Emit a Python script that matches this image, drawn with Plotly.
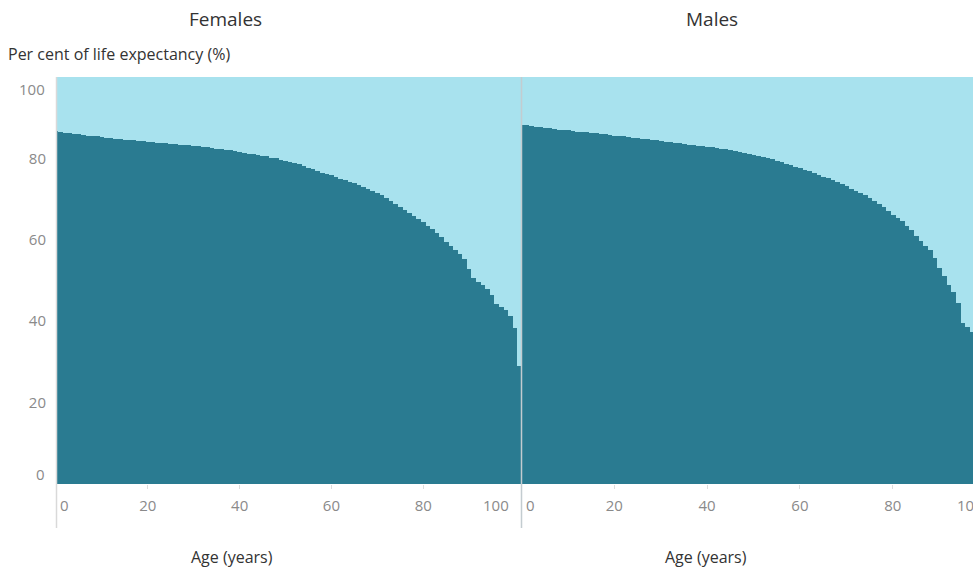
import plotly.graph_objects as go

# ---------------- data ----------------
female_ages = list(range(0, 102))
female_pct = [
    86.7, 86.5, 86.3, 86.2, 86.0, 85.9, 85.8, 85.6, 85.5, 85.4,
    85.2, 85.1, 85.0, 84.8, 84.7, 84.6, 84.5, 84.4, 84.3, 84.2,
    84.1, 84.0, 83.9, 83.8, 83.7, 83.6, 83.5, 83.4, 83.3, 83.2,
    83.1, 83.0, 82.8, 82.7, 82.5, 82.4, 82.3, 82.1, 82.0, 81.8,
    81.6, 81.4, 81.2, 81.1, 80.9, 80.7, 80.5, 80.2, 80.0, 79.7,
    79.4, 79.1, 78.9, 78.6, 78.2, 77.7, 77.3, 76.9, 76.5, 76.1,
    75.8, 75.4, 75.0, 74.6, 74.3, 73.9, 73.5, 73.0, 72.4, 71.9,
    71.4, 70.9, 70.2, 69.5, 68.8, 68.1, 67.4, 66.6, 65.8, 65.0,
    64.3, 63.5, 62.6, 61.6, 60.6, 59.5, 58.5, 57.6, 56.6, 55.2,
    52.8, 50.5, 49.7, 48.8, 47.8, 46.4, 44.3, 43.5, 42.8, 41.4,
    38.3, 29.1,
]

male_ages = list(range(0, 98))
male_pct = [
    88.2, 88.1, 88.0, 87.8, 87.7, 87.5, 87.4, 87.2, 87.1, 87.0,
    86.9, 86.8, 86.6, 86.5, 86.4, 86.3, 86.2, 86.1, 85.9, 85.8,
    85.6, 85.5, 85.4, 85.2, 85.1, 85.0, 84.8, 84.7, 84.5, 84.4,
    84.2, 84.1, 84.0, 83.8, 83.7, 83.5, 83.4, 83.3, 83.1, 83.0,
    82.8, 82.7, 82.5, 82.4, 82.2, 82.0, 81.8, 81.6, 81.3, 81.1,
    80.8, 80.6, 80.3, 80.1, 79.8, 79.4, 79.1, 78.7, 78.4, 78.0,
    77.6, 77.2, 76.8, 76.4, 75.9, 75.5, 75.1, 74.6, 74.1, 73.6,
    73.1, 72.5, 72.0, 71.5, 70.9, 70.2, 69.5, 68.9, 68.1, 67.2,
    66.2, 65.4, 64.5, 63.5, 62.3, 61.0, 59.8, 58.4, 57.5, 55.5,
    53.0, 51.2, 49.0, 47.2, 44.4, 39.5, 38.5, 37.3,
]

panel_titles = ["Females", "Males"]
x_tick_vals = [20, 40, 60, 80]
y_tick_vals = [20, 40, 60, 80]

DARK = "#2A7B91"
LIGHT = "#A8E2EE"
TICK_GREY = "#8a8a8a"
TEXT_DARK = "#333333"
FONT = "Open Sans"

W, H = 973, 570
PLOT_L, PLOT_T, PLOT_B = 56, 77, 484
ML, MT, MB, MR = PLOT_L, PLOT_T, H - PLOT_B, 0
PW = W - ML - MR
PH = H - MT - MB


def px_x(p):
    return (p - PLOT_L) / PW


def px_y(p):
    return (PLOT_B - p) / PH


split = px_x(521.5)

fig = go.Figure()
for ages, vals, xa in [(female_ages, female_pct, "x"), (male_ages, male_pct, "x2")]:
    fig.add_trace(go.Bar(x=ages, y=vals, xaxis=xa, yaxis="y",
                         marker=dict(color=DARK, line=dict(width=0)),
                         showlegend=False, hoverinfo="x+y"))
    fig.add_trace(go.Bar(x=ages, y=[100 - v for v in vals], xaxis=xa, yaxis="y",
                         marker=dict(color=LIGHT, line=dict(width=0)),
                         showlegend=False, hoverinfo="skip"))

axis_common = dict(
    tickvals=x_tick_vals, ticks="outside", ticklen=4, tickcolor="#dddddd",
    tickfont=dict(family=FONT, size=15, color=TICK_GREY),
    showgrid=False, zeroline=False, showline=False, fixedrange=True,
    ticklabelstandoff=4,
)

fig.update_layout(
    width=W, height=H,
    margin=dict(l=ML, r=MR, t=MT, b=MB, pad=0),
    barmode="stack", bargap=0,
    plot_bgcolor="white", paper_bgcolor="white",
    xaxis=dict(domain=[0, split], range=[0, 101.4], **axis_common),
    xaxis2=dict(domain=[split, 1], range=[0, 97.3], anchor="y", **axis_common),
    yaxis=dict(range=[0, 100], tickvals=y_tick_vals, ticks="", showgrid=False,
               zeroline=False, showline=False, fixedrange=True,
               tickfont=dict(family=FONT, size=15, color=TICK_GREY),
               ticklabelstandoff=9),
    font=dict(family=FONT, color=TEXT_DARK),
)

ann = []
ann.append(dict(text=panel_titles[0], x=px_x(225.8), y=px_y(19), xref="paper", yref="paper",
                showarrow=False, font=dict(size=19, color=TEXT_DARK), xanchor="center", yanchor="middle"))
ann.append(dict(text=panel_titles[1], x=px_x(712), y=px_y(19), xref="paper", yref="paper",
                showarrow=False, font=dict(size=19, color=TEXT_DARK), xanchor="center", yanchor="middle"))
ann.append(dict(text="Per cent of life expectancy (%)", x=px_x(6), y=px_y(54), xref="paper", yref="paper",
                showarrow=False, font=dict(size=16, color=TEXT_DARK), xanchor="left", yanchor="middle"))
for cx in (232.3, 705.5):
    ann.append(dict(text="Age (years)", x=px_x(cx), y=px_y(557), xref="paper", yref="paper",
                    showarrow=False, font=dict(size=16, color=TEXT_DARK), xanchor="center", yanchor="middle"))
for txt, xp, anchor in [("0", 58, "left"), ("100", 510.5, "right"), ("0", 524, "left"), ("100", 955, "left")]:
    ann.append(dict(text=txt, x=px_x(xp), y=px_y(505), xref="paper", yref="paper",
                    showarrow=False, font=dict(size=15, color=TICK_GREY), xanchor=anchor, yanchor="middle"))
for txt, yp in [("100", 89), ("0", 474)]:
    ann.append(dict(text=txt, x=px_x(47), y=px_y(yp), xref="paper", yref="paper",
                    showarrow=False, font=dict(size=15, color=TICK_GREY), xanchor="right", yanchor="middle"))
fig.update_layout(annotations=ann)

shapes = []
for xp, col in [(56.5, "#d9d9d9"), (521.5, "#c3ccd0")]:
    shapes.append(dict(type="line", xref="paper", yref="paper",
                       x0=px_x(xp), x1=px_x(xp), y0=px_y(528), y1=1,
                       line=dict(color=col, width=1.5), layer="above"))
fig.update_layout(shapes=shapes)

fig.write_html(
    "out.html",
    config={"displayModeBar": False},
    post_script="document.body.style.margin='0px';document.body.style.overflow='hidden';",
)
